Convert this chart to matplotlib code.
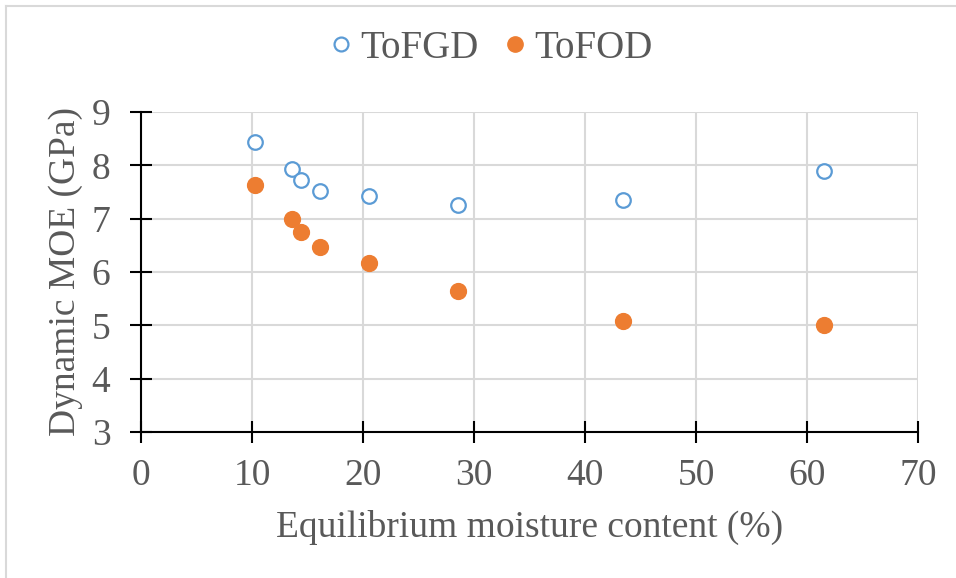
import matplotlib
matplotlib.use("Agg")
import matplotlib.pyplot as plt
from matplotlib.lines import Line2D

# ── Data: dynamic MOE vs equilibrium moisture content ─────────────────────
emc = [10.3, 13.6, 14.4, 16.1, 20.5, 28.6, 43.4, 61.5]          # %
moe_fgd = [8.44, 7.94, 7.73, 7.52, 7.42, 7.25, 7.35, 7.90]       # GPa
moe_fod = [7.63, 6.99, 6.75, 6.47, 6.17, 5.65, 5.08, 5.01]       # GPa

BLUE = "#5b9bd5"
ORANGE = "#ed7d31"
TEXT = "#595959"
GRID = "#d9d9d9"

plt.rcParams["font.family"] = ["Liberation Serif", "DejaVu Serif"]

fig = plt.figure(figsize=(9.56, 5.78), dpi=100)
ax = fig.add_axes([141 / 956, 1 - 432 / 578, 777 / 956, 320 / 578])

ax.scatter(emc, moe_fgd, s=110, facecolors="white", edgecolors=BLUE,
           linewidths=1.6, zorder=3, label="ToFGD")
ax.scatter(emc, moe_fod, s=130, color=ORANGE, edgecolors=ORANGE,
           zorder=3, label="ToFOD")

ax.set_xlim(0, 70)
ax.set_ylim(3, 9)
ax.set_xticks(range(0, 71, 10))
ax.set_yticks(range(3, 10))
ax.grid(True, color=GRID, linewidth=1.5, zorder=0)
ax.set_axisbelow(True)

for side in ["top", "right"]:
    ax.spines[side].set_visible(False)
for side in ["left", "bottom"]:
    ax.spines[side].set_color("black")
    ax.spines[side].set_linewidth(1.5)

ax.tick_params(direction="inout", length=16, width=1.5, color="black",
               labelsize=27, labelcolor=TEXT)
ax.tick_params(axis="x", pad=11)
ax.tick_params(axis="y", pad=14)

ax.set_xlabel("Equilibrium moisture content (%)", fontsize=27, color=TEXT,
              labelpad=12)
ax.set_ylabel("Dynamic MOE (GPa)", fontsize=27, color=TEXT, labelpad=6)

handles = [
    Line2D([], [], marker="o", linestyle="none", markersize=10,
           markerfacecolor="white", markeredgecolor=BLUE, markeredgewidth=1.6),
    Line2D([], [], marker="o", linestyle="none", markersize=11,
           markerfacecolor=ORANGE, markeredgecolor=ORANGE),
]
fig.legend(handles, ["ToFGD", "ToFOD"], loc="center",
           bbox_to_anchor=(487 / 956, 1 - 48 / 578), ncol=2, frameon=False,
           fontsize=28, labelcolor=TEXT, handletextpad=0.0,
           columnspacing=0.45, handlelength=1.0)

# thin chart border along the top and left edges
fig.add_artist(Line2D([6 / 956, 1], [1 - 6 / 578, 1 - 6 / 578],
                      transform=fig.transFigure, color=GRID, linewidth=1.5))
fig.add_artist(Line2D([6 / 956, 6 / 956], [0, 1 - 6 / 578],
                      transform=fig.transFigure, color=GRID, linewidth=1.5))

fig.savefig("out.png", dpi=100)
